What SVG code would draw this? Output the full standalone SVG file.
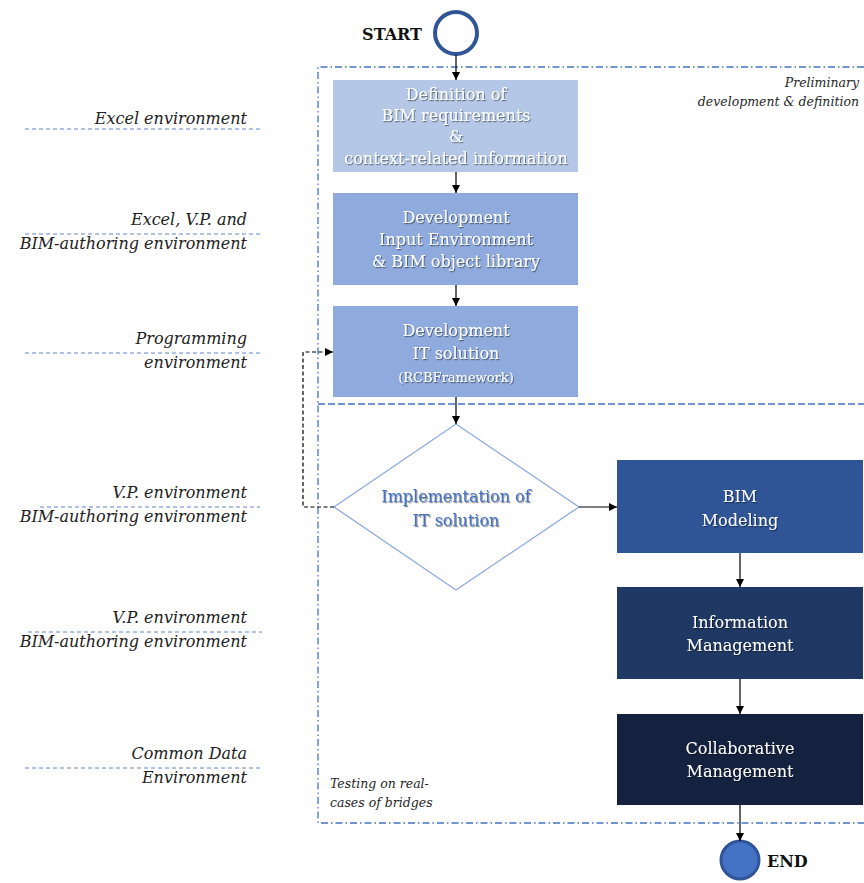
<svg xmlns="http://www.w3.org/2000/svg" width="864" height="883" viewBox="0 0 864 883">
<defs>
<marker id="ah" viewBox="0 0 10 10" refX="10" refY="5" markerWidth="8" markerHeight="8" markerUnits="userSpaceOnUse" orient="auto"><path d="M0,0 L10,5 L0,10 z" fill="#000"/></marker>
<filter id="sh" x="-10%" y="-30%" width="120%" height="160%"><feDropShadow dx="1" dy="1.2" stdDeviation="0.7" flood-color="#000" flood-opacity="0.45"/></filter>
</defs>
<style>
.bt{font-family:"DejaVu Serif","Liberation Serif",serif;font-size:16px;fill:#fff;text-anchor:middle;filter:url(#sh)}
.lab{font-family:"DejaVu Serif","Liberation Serif",serif;font-style:italic;font-size:16px;fill:#222;text-anchor:end}
.sm{font-family:"DejaVu Serif","Liberation Serif",serif;font-style:italic;font-size:12.5px;fill:#262626}
.gl{stroke:#4472c4;stroke-width:1;stroke-dasharray:4 3;fill:none;opacity:0.85}
.dd{stroke:#4472c4;stroke-width:1.3;stroke-dasharray:7 3 1.5 3;fill:none}
.con{stroke:#000;stroke-width:1.2;fill:none;marker-end:url(#ah)}
.term{font-family:"DejaVu Serif","Liberation Serif",serif;font-weight:bold;font-size:16px;fill:#111}
</style>
<rect width="864" height="883" fill="#fff"/>
<g id="frames">
<path class="dd" d="M864,67 H318 V823 H864"/>
<path d="M318,404 H864" stroke="#4472c4" stroke-width="1.3" stroke-dasharray="7 3" fill="none"/>
<text class="sm" x="859" y="87" text-anchor="end">Preliminary</text>
<text class="sm" x="859" y="106" text-anchor="end">development  &amp; definition</text>
<text class="sm" x="330" y="788">Testing on real-</text>
<text class="sm" x="330" y="807">cases of bridges</text>
</g>
<g id="labels">
<text class="lab" x="247" y="124">Excel environment</text>
<line class="gl" x1="25" y1="129" x2="262" y2="129"/>
<text class="lab" x="247" y="225">Excel, V.P. and</text>
<line class="gl" x1="25" y1="234" x2="262" y2="234"/>
<text class="lab" x="247" y="249">BIM-authoring environment</text>
<text class="lab" x="247" y="344">Programming</text>
<line class="gl" x1="25" y1="353" x2="262" y2="353"/>
<text class="lab" x="247" y="368">environment</text>
<text class="lab" x="247" y="498">V.P. environment</text>
<line class="gl" x1="40" y1="507" x2="260" y2="507"/>
<text class="lab" x="247" y="522">BIM-authoring environment</text>
<text class="lab" x="247" y="623">V.P. environment</text>
<line class="gl" x1="28" y1="632" x2="262" y2="632"/>
<text class="lab" x="247" y="647">BIM-authoring environment</text>
<text class="lab" x="247" y="759">Common Data</text>
<line class="gl" x1="25" y1="768" x2="262" y2="768"/>
<text class="lab" x="247" y="783">Environment</text>
</g>
<g id="start">
<circle cx="456" cy="33" r="21" fill="#fff" stroke="#2f5597" stroke-width="4"/>
<text class="term" x="422" y="40" text-anchor="end">START</text>
</g>
<g id="n1">
<rect x="333" y="80" width="245" height="92" fill="#b4c7e7"/>
<text class="bt" x="456" y="100">Definition of</text>
<text class="bt" x="456" y="121">BIM requirements</text>
<text class="bt" x="456" y="142">&amp;</text>
<text class="bt" x="456" y="164">context-related information</text>
</g>
<g id="n2">
<rect x="333" y="193" width="245" height="92" fill="#8faadc"/>
<text class="bt" x="456" y="223">Development</text>
<text class="bt" x="456" y="245">Input Environment</text>
<text class="bt" x="456" y="267">&amp; BIM object library</text>
</g>
<g id="n3">
<rect x="333" y="306" width="245" height="91" fill="#8faadc"/>
<text class="bt" x="456" y="336">Development</text>
<text class="bt" x="456" y="359">IT solution</text>
<text class="bt" x="456" y="382" style="font-size:13px">(RCBFramework)</text>
</g>
<g id="n4">
<polygon points="456,424 579,507 456,590 334,507" fill="#fff" stroke="#8faadc" stroke-width="1.3"/>
<text class="bt" x="456" y="502" style="fill:#4472c4">Implementation  of</text>
<text class="bt" x="456" y="526" style="fill:#4472c4">IT solution</text>
</g>
<g id="n5">
<rect x="617" y="460" width="246" height="93" fill="#2f5597"/>
<text class="bt" x="740" y="502">BIM</text>
<text class="bt" x="740" y="526">Modeling</text>
</g>
<g id="n6">
<rect x="617" y="587" width="246" height="92" fill="#203864"/>
<text class="bt" x="740" y="628">Information</text>
<text class="bt" x="740" y="651">Management</text>
</g>
<g id="n7">
<rect x="617" y="714" width="246" height="91" fill="#15223f"/>
<text class="bt" x="740" y="754">Collaborative</text>
<text class="bt" x="740" y="777">Management</text>
</g>
<g id="end">
<circle cx="740" cy="860" r="19" fill="#4472c4" stroke="#2f5597" stroke-width="3"/>
<text class="term" x="767" y="867">END</text>
</g>
<g id="connectors">
<line class="con" x1="456" y1="55" x2="456" y2="80"/>
<line class="con" x1="456" y1="172" x2="456" y2="193"/>
<line class="con" x1="456" y1="285" x2="456" y2="306"/>
<line class="con" x1="456" y1="397" x2="456" y2="424"/>
<path class="con" d="M334,507 H303 V352 H333" stroke-dasharray="4 2.5"/>
<line class="con" x1="579" y1="507" x2="617" y2="507"/>
<line class="con" x1="740" y1="553" x2="740" y2="587"/>
<line class="con" x1="740" y1="679" x2="740" y2="714"/>
<line class="con" x1="740" y1="805" x2="740" y2="841"/>
</g>
</svg>
